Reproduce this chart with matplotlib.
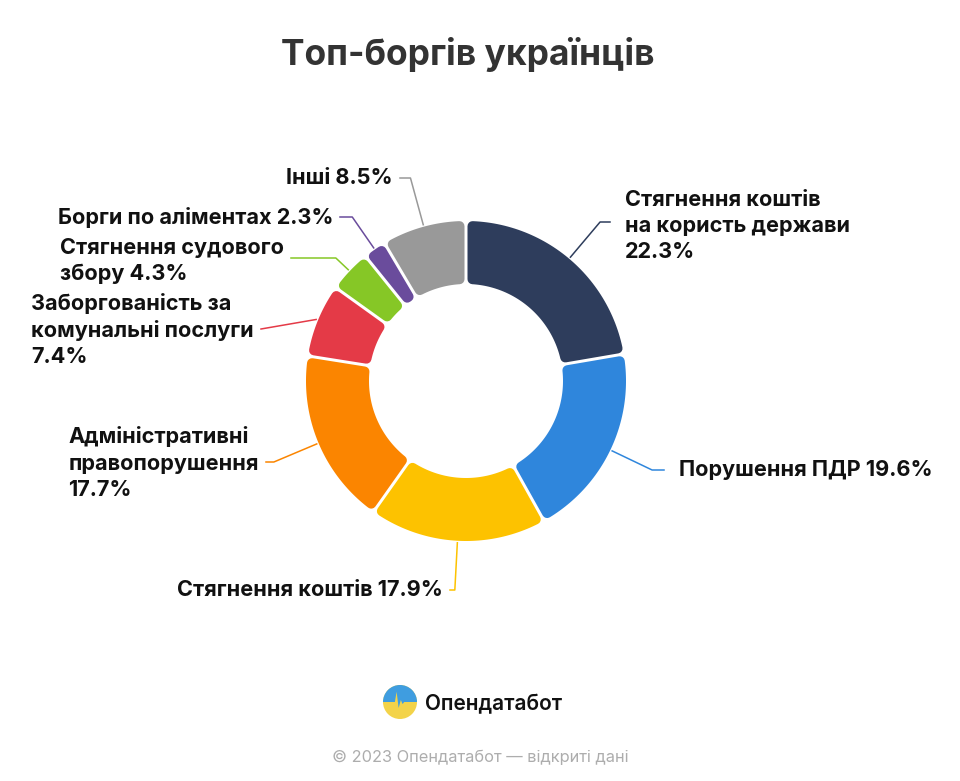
import numpy as np
import matplotlib.pyplot as plt
from matplotlib.patches import Polygon, Circle

plt.rcParams['font.family'] = ['Inter', 'DejaVu Sans']

# data
categories = ["Стягнення коштів\nна користь держави", "Порушення ПДР", "Стягнення коштів",
              "Адміністративні\nправопорушення", "Заборгованість за\nкомунальні послуги",
              "Стягнення судового\nзбору", "Борги по аліментах", "Інші"]
shares = [22.3, 19.6, 17.9, 17.7, 7.4, 4.3, 2.3, 8.5]
pct_sep = ["\n", " ", " ", "\n", "\n", " ", " ", " "]
colors = ["#2e3d5c", "#2f86dc", "#fdc200", "#fb8500", "#e43a47", "#86c726", "#6a4c9c", "#999999"]

# label layout in pixels (x, y from top, ha, leader y)
label_pos = [(625, 226, "left", 222), (679, 470, "left", 470), (443, 590, "right", 590),
             (259, 463, "right", 462), (254, 330, "right", 329), (284, 261, "right", 258),
             (333, 217, "right", 217), (393, 178, "right", 178)]

W, H = 960, 781
CX, CY = 466, H - 381
R, R_IN = 160, 97
GAP, RAD = 3, 5

fig = plt.figure(figsize=(W / 100, H / 100), dpi=100)
ax = fig.add_axes([0, 0, 1, 1])
wedges, _ = ax.pie(shares, radius=R, center=(CX, CY), startangle=90,
                   counterclock=False, colors=colors)
ax.set_xlim(0, W)
ax.set_ylim(0, H)
ax.set_aspect("equal")
ax.axis("off")


def rounded_sector(t1, t2):
    # sector inset by the corner radius, stroked with a round join
    s = GAP / 2 + RAD
    ro, ri = R - RAD, R_IN + RAD
    do, di = np.degrees(np.arcsin(s / ro)), np.degrees(np.arcsin(s / ri))
    mid = (t1 + t2) / 2
    a_o = np.radians(np.linspace(min(t1 + do, mid), max(t2 - do, mid), 60))
    a_i = np.radians(np.linspace(max(t2 - di, mid), min(t1 + di, mid), 60))
    xs = np.concatenate([CX + ro * np.cos(a_o), CX + ri * np.cos(a_i)])
    ys = np.concatenate([CY + ro * np.sin(a_o), CY + ri * np.sin(a_i)])
    return np.column_stack([xs, ys])


for w, col, cat, sh, sep, (tx, ty, ha, ly) in zip(wedges, colors, categories, shares,
                                                  pct_sep, label_pos):
    w.set_visible(False)
    ax.add_patch(Polygon(rounded_sector(w.theta1, w.theta2), closed=True,
                         facecolor=col, edgecolor=col, lw=2 * RAD * 0.72,
                         joinstyle="round"))
    # leader line
    th = np.radians((w.theta1 + w.theta2) / 2)
    ly = H - ly
    x0, y0 = CX + (R + 2) * np.cos(th), CY + (R + 2) * np.sin(th)
    x_end = tx - 15 if ha == "left" else tx + 7
    r_el = (ly - CY) / np.sin(th) if abs(np.sin(th)) > 1e-6 else 0
    if r_el > R + 8:
        xe, ye = CX + r_el * np.cos(th), CY + r_el * np.sin(th)
        ax.plot([x0, xe, x_end], [y0, ye, ly], color=col, lw=1.1)
    else:
        ax.plot([x0, x_end], [y0, ly], color=col, lw=1.1)
    ax.text(tx, H - ty, f"{cat}{sep}{sh}%", ha=ha, va="center", multialignment="left",
            fontsize=15.6, fontweight="bold", color="#111111", linespacing=1.38)

ax.text(468, H - 65, "Топ-боргів українців", ha="center", va="baseline",
        fontsize=25.5, fontweight="bold", color="#333333")

# logo
lx, lyc, lr = 400, H - 702, 17
clip = Circle((lx, lyc), lr, transform=ax.transData)
ax.add_patch(Circle((lx, lyc), lr, facecolor="#f3d34a", edgecolor="none"))
bx = np.array([-1.2, -0.3, -0.2, -0.08, 0.05, 0.15, 0.25, 1.2])
by = np.array([0.0, 0.0, 0.6, -0.35, 0.12, -0.12, 0.0, 0.0])
blue = Polygon(np.column_stack([lx + lr * np.concatenate([bx, [1.2, -1.2]]),
                                lyc + lr * np.concatenate([by, [1.2, 1.2]])]),
               closed=True, facecolor="#3f9de0", edgecolor="none")
ax.add_patch(blue)
blue.set_clip_path(clip)
ax.text(425, H - 710, "Опендатабот", ha="left", va="baseline", fontsize=15,
        fontweight="semibold", color="#111111")

ax.text(480, H - 762, "© 2023 Опендатабот — відкриті дані", ha="center", va="baseline",
        fontsize=11.8, color="#adadad")

fig.savefig("out.png", dpi=100, facecolor="white")
